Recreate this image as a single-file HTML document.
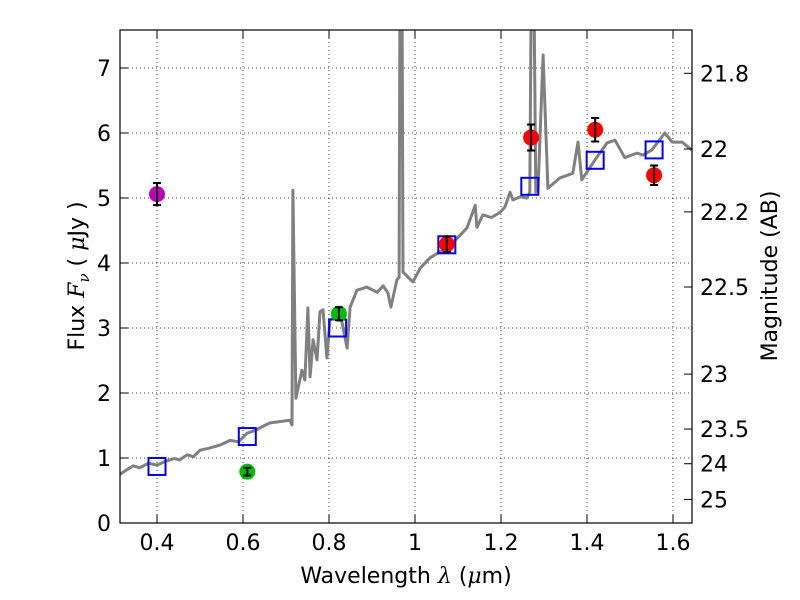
<!DOCTYPE html>
<html><head><meta charset="utf-8"><style>
body{margin:0;background:#fff;}
svg{display:block;font-family:"DejaVu Sans","Liberation Sans",sans-serif;}
</style></head><body>
<svg id="chart" width="800" height="600">
<rect x="0" y="0" width="800" height="600" fill="#fff"/>
<defs><clipPath id="clip"><rect x="120" y="30" width="572" height="493"/></clipPath></defs>
<g id="grid"></g>
<g id="series" clip-path="url(#clip)"></g>
<rect x="120" y="30" width="572" height="493" fill="none" stroke="#000" stroke-width="1.2"/>
<g id="axes"></g>
<text x="406" y="583" font-size="22" text-anchor="middle">Wavelength  <tspan font-family="DejaVu Serif" font-style="italic">λ</tspan> (<tspan font-family="DejaVu Serif" font-style="italic">μ</tspan>m)</text>
<text transform="translate(84,276) rotate(-90)" font-size="22" text-anchor="middle">Flux  <tspan font-family="DejaVu Serif" font-style="italic">F<tspan font-size="15" dy="5">ν</tspan></tspan><tspan dy="-5">  ( </tspan><tspan font-family="DejaVu Serif" font-style="italic">μ</tspan>Jy )</text>
<text transform="translate(777,276) rotate(-90)" font-size="22" text-anchor="middle">Magnitude (AB)</text>
</svg>
<script>
const xTicks=[0.4,0.6,0.8,1,1.2,1.4,1.6];
const xTickLabels=["0.4","0.6","0.8","1","1.2","1.4","1.6"];
const yTicks=[0,1,2,3,4,5,6,7];
const magTicks=[21.8,22,22.2,22.5,23,23.5,24,25];
const magLabels=["21.8","22","22.2","22.5","23","23.5","24","25"];
const specWave=[0.314,0.330,0.345,0.360,0.380,0.400,0.420,0.440,0.453,0.470,0.485,0.500,0.520,0.547,0.570,0.590,0.609,0.630,0.650,0.663,0.685,0.709,0.714,0.716,0.723,0.737,0.744,0.751,0.756,0.763,0.772,0.779,0.786,0.795,0.802,0.826,0.842,0.849,0.865,0.888,0.912,0.926,0.937,0.944,0.958,0.963,0.965,0.970,0.972,0.995,1.012,1.035,1.058,1.078,1.098,1.121,1.140,1.144,1.158,1.178,1.198,1.209,1.221,1.228,1.245,1.260,1.267,1.270,1.277,1.281,1.286,1.298,1.309,1.337,1.367,1.379,1.388,1.400,1.423,1.447,1.465,1.488,1.516,1.530,1.551,1.581,1.598,1.621,1.644];
const specFlux=[0.75,0.82,0.88,0.85,0.92,0.89,0.95,0.99,0.97,1.05,1.02,1.12,1.15,1.20,1.27,1.25,1.38,1.43,1.50,1.54,1.56,1.58,1.51,5.12,1.92,2.35,2.20,3.31,2.25,2.82,2.51,3.25,3.28,2.54,3.12,3.23,2.69,3.32,3.58,3.63,3.55,3.65,3.54,3.32,3.74,3.78,7.9,7.9,3.86,3.71,3.92,4.08,4.17,4.25,4.38,4.54,4.89,4.55,4.74,4.70,4.78,4.86,5.09,4.97,5.02,5.00,5.09,7.9,7.9,5.09,5.12,7.2,5.15,5.31,5.38,5.86,5.28,5.40,5.63,5.85,5.89,5.62,5.69,5.66,5.74,6.00,5.86,5.86,5.74];
const modelWave=[0.40,0.61,0.82,1.074,1.267,1.419,1.556];
const modelFlux=[0.87,1.33,3.0,4.28,5.18,5.58,5.74];
const obsWave=[0.40,0.61,0.823,1.074,1.27,1.419,1.556];
const obsFlux=[5.06,0.79,3.22,4.29,5.93,6.05,5.35];
const obsErr=[0.17,0.06,0.1,0.12,0.2,0.18,0.15];
const obsColor=["#bf00bf","#00bf00","#00bf00","#ff0000","#ff0000","#ff0000","#ff0000"];

const NS="http://www.w3.org/2000/svg";
const X=v=>157+(v-0.4)*430;
const Y=v=>523-v*65;
const magToY=m=>Y(Math.pow(10,(23.9-m)/2.5));
function mk(tag,attrs,parent){const e=document.createElementNS(NS,tag);for(const k in attrs)e.setAttribute(k,attrs[k]);parent.appendChild(e);return e;}
const grid=document.getElementById('grid'),axes=document.getElementById('axes'),series=document.getElementById('series');
xTicks.forEach((t,i)=>{
 const g=mk('line',{x1:X(t),x2:X(t),y1:30,y2:523,stroke:'#000','stroke-width':0.8,'stroke-dasharray':'1,3'},grid);
 
 
 mk('line',{x1:X(t),x2:X(t),y1:523,y2:515,stroke:'#000'},axes);
 mk('line',{x1:X(t),x2:X(t),y1:30,y2:38,stroke:'#000'},axes);
 const l=mk('text',{x:X(t),y:550,'font-size':22,'text-anchor':'middle'},axes);
 l.textContent=xTickLabels[i];
 
 
});
yTicks.forEach(t=>{
 const g=mk('line',{x1:120,x2:692,y1:Y(t),y2:Y(t),stroke:'#000','stroke-width':0.8,'stroke-dasharray':'1,3'},grid);
 
 
 mk('line',{x1:120,x2:128,y1:Y(t),y2:Y(t),stroke:'#000'},axes);
 const l=mk('text',{x:111,y:Y(t)+8,'font-size':22,'text-anchor':'end'},axes);
 l.textContent=String(t);
 
 
});
magTicks.forEach((m,i)=>{
 const y=magToY(m);
 mk('line',{x1:684,x2:692,y1:y,y2:y,stroke:'#000'},axes);
 const l=mk('text',{x:700,y:y+8,'font-size':22},axes);
 l.textContent=magLabels[i];
 
 
});
const d=specWave.map((w,i)=>(i?'L':'M')+X(w).toFixed(1)+','+Y(specFlux[i]).toFixed(1)).join(' ');
const sp=mk('path',{d:d,fill:'none',stroke:'#808080','stroke-width':3,'stroke-linejoin':'round'},series);


modelWave.forEach((w,i)=>{
 const r=mk('rect',{x:X(w)-8.5,y:Y(modelFlux[i])-8.5,width:17,height:17,fill:'none',stroke:'#0000ff','stroke-width':2},series);
 
 
});
obsWave.forEach((w,i)=>{
 const cx=X(w),cy=Y(obsFlux[i]);
 const c=mk('circle',{cx:cx,cy:cy,r:8,fill:obsColor[i]},series);
 
 
 const y1=Y(obsFlux[i]+obsErr[i]),y2=Y(obsFlux[i]-obsErr[i]);
 const eb=mk('path',{d:`M${cx},${y1} L${cx},${y2} M${cx-4},${y1} L${cx+4},${y1} M${cx-4},${y2} L${cx+4},${y2}`,stroke:'#000','stroke-width':2,fill:'none'},series);
 
 
});
</script>
</body></html>
